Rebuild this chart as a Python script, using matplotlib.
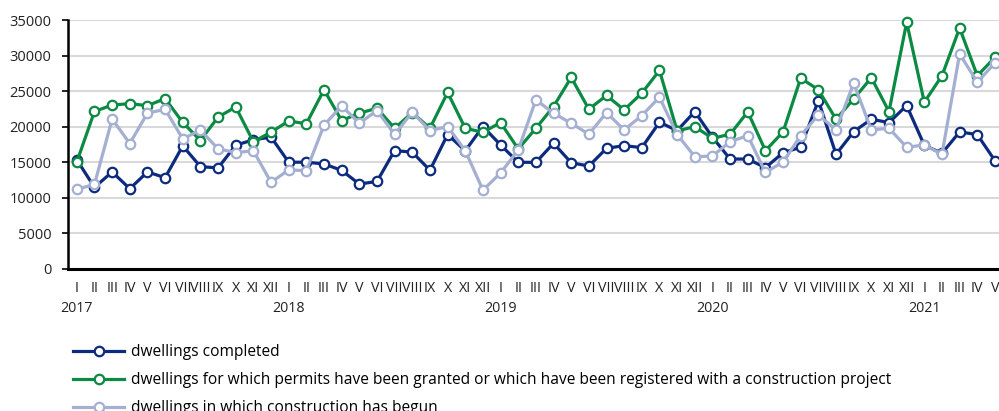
import numpy as np
import matplotlib
matplotlib.use("Agg")
import matplotlib.pyplot as plt

# months Jan 2017 - May 2021
roman = ["I", "II", "III", "IV", "V", "VI", "VII", "VIII", "IX", "X", "XI", "XII"]
years = ["2017", "2018", "2019", "2020", "2021"]
n_months = 53

completed = [15340, 11480, 13640, 11290, 13640, 12840, 17310, 14390, 14210, 17410, 18160, 18540,
             15010, 15010, 14770, 13860, 11940, 12310, 16650, 16420, 13880, 18900, 16620, 20030,
             17440, 15000, 14990, 17670, 14940, 14470, 16960, 17340, 17060, 20630, 19450, 22130,
             18520, 15460, 15460, 14240, 16350, 17110, 23680, 16120, 19310, 21050, 20580, 22980,
             17390, 16260, 19270, 18890, 15230]
permits = [15050, 22150, 23050, 23240, 22960, 23950, 20600, 18060, 21360, 22770, 17880, 19240,
           20800, 20420, 25200, 20860, 21900, 22600, 19780, 21990, 19780, 24810, 19780, 19220,
           20580, 16870, 19780, 22840, 26930, 22460, 24390, 22370, 24720, 27910, 19400, 20020,
           18370, 18940, 22090, 16640, 19270, 26830, 25190, 21050, 23920, 26880, 22130, 34680,
           23450, 27160, 33880, 27160, 29750]
begun = [11200, 11900, 21080, 17640, 21920, 22440, 18300, 19520, 16890, 16370, 16610, 12190,
         13930, 13820, 20210, 22930, 20490, 22270, 18940, 22040, 19450, 20020, 16640, 11090,
         13490, 16730, 23780, 21900, 20490, 18940, 21990, 19550, 21570, 24150, 18900, 15790,
         15880, 17900, 18750, 13580, 15040, 18750, 21660, 19550, 26130, 19550, 19780, 17110,
         17430, 16120, 30220, 26270, 28950]

labels = ["dwellings completed",
          "dwellings for which permits have been granted or which have been registered with a construction project",
          "dwellings in which construction has begun"]
colors = ["#0d2b7e", "#0b8a43", "#a4afd2"]

plt.rcParams['font.family'] = ['Open Sans', 'DejaVu Sans']

fig = plt.figure(figsize=(9.99, 4.11), dpi=100)
ax = fig.add_axes([68 / 999, 1 - 269 / 411, 1 - 68 / 999, 249 / 411])

x = np.arange(n_months)
for vals, c, lab in zip([completed, permits, begun], colors, labels):
    ax.plot(x, vals, color=c, lw=2.3, marker="o", markersize=6.8,
            markerfacecolor="white", markeredgecolor=c, markeredgewidth=1.6,
            label=lab, clip_on=False)

ax.set_ylim(0, 35000)
ax.set_xlim(-0.5, 52.23)
ax.set_yticks(range(0, 35001, 5000))
ax.yaxis.grid(True, color="#d9d9d9", lw=1.5)
ax.set_axisbelow(True)

# roman month labels, year under each January
ticklabels = []
for i in range(n_months):
    r = roman[i % 12]
    if i % 12 == 0:
        r = r + "\n" + years[i // 12]
    ticklabels.append(r)
ax.set_xticks(x)
ax.set_xticklabels(ticklabels, linespacing=1.45)

ax.tick_params(axis="x", length=0, pad=9, labelsize=10.3)
ax.tick_params(axis="y", length=4, width=1.2, pad=8, labelsize=10.5)
for lab in ax.get_xticklabels() + ax.get_yticklabels():
    lab.set_color("#222222")

for s in ["top", "right"]:
    ax.spines[s].set_visible(False)
ax.spines["left"].set_linewidth(1.8)
ax.spines["bottom"].set_linewidth(2.2)

fig.legend(loc="upper left", bbox_to_anchor=(73 / 999, 1 - 344 / 411), frameon=False,
           fontsize=11.2, handlelength=3.3, handletextpad=0.4, labelspacing=0.78,
           borderpad=0, borderaxespad=0)

fig.savefig("out.png", dpi=100)
